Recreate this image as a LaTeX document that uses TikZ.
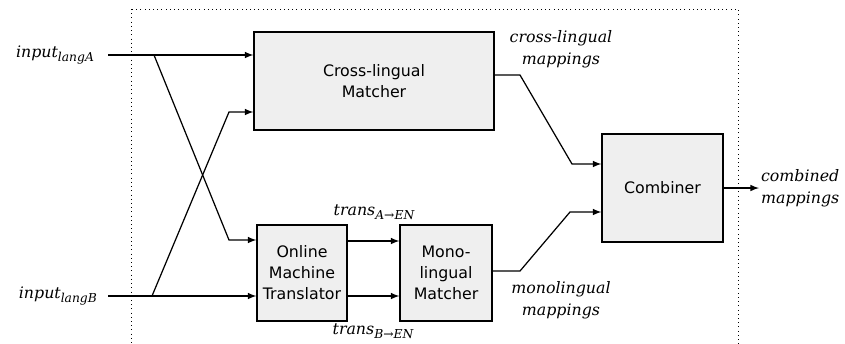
\documentclass[tikz,border=0pt]{standalone}
\usepackage{fontspec}
\setmainfont{DejaVu Sans}
\newfontfamily\lblfont{DejaVu Serif}
\usepackage{tikz}
\usetikzlibrary{arrows}
\tikzset{>=latex}
\usepackage{xcolor}
\definecolor{boxgray}{HTML}{EFEFEF}
\newcommand{\sub}[1]{\raisebox{-0.25em}{\fontsize{7}{7}\selectfont #1}}

\tikzset{
  block/.style={draw,fill=boxgray,line width=0.7pt,align=center,inner sep=0pt,
    font=\fontsize{9}{12}\selectfont},
  lbl/.style={align=center,inner sep=1pt,font=\fontsize{9}{12.5}\selectfont\lblfont\itshape},
  conn/.style={->,line width=0.7pt}
}

\begin{document}
\begin{tikzpicture}[x=0.02cm,y=-0.02cm]
  \useasboundingbox (0,0) rectangle (845,343);
  \draw[dotted] (131,9) rectangle (738,360);
  % blocks
  \node[block,minimum width=4.8cm,minimum height=1.96cm] (CLM) at (374,81) {Cross-lingual\\Matcher};
  \node[block,minimum width=1.8cm,minimum height=1.92cm] (OMT) at (302,273) {Online\\Machine\\Translator};
  \node[block,minimum width=1.84cm,minimum height=1.92cm] (MLM) at (446,273) {Mono-\\lingual\\Matcher};
  \node[block,minimum width=2.42cm,minimum height=2.16cm] (Comb) at (662.5,188) {Combiner};
  % inputs
  \node[lbl,anchor=east] (inA) at (96,55) {input\sub{langA}};
  \node[lbl,anchor=east] (inB) at (99,296) {input\sub{langB}};
  \coordinate (sA) at (154,55);
  \coordinate (sB) at (152,296);
  \coordinate (kA) at (229,240);
  \coordinate (kB) at (229,112);
  \draw[conn] (108,55) -- (inA.east -| CLM.west);
  \draw[conn] (sA) -- (kA) -- (kA -| OMT.west);
  \draw[conn] (108,296) -- (inB.east -| OMT.west);
  \draw[conn] (sB) -- (kB) -- (kB -| CLM.west);
  % translations
  \coordinate (tA) at (347,241);
  \coordinate (tB) at (347,296);
  \draw[conn] (tA) -- (tA -| MLM.west);
  \draw[conn] (tB) -- (tB -| MLM.west);
  \node[lbl] (trA) at (374,212) {trans\sub{A→EN}};
  \node[lbl] (trB) at (373,331) {trans\sub{B→EN}};
  % to combiner
  \coordinate (cA) at (494,75);
  \coordinate (cB) at (492,271);
  \coordinate (jA) at (572,164);
  \coordinate (jB) at (570,212);
  \draw[conn] (cA) -- ++(26,0) -- (jA) -- (jA -| Comb.west);
  \draw[conn] (cB) -- ++(28,0) -- (jB) -- (jB -| Comb.west);
  \node[lbl] (mapCL) at (561,49) {cross-lingual\\mappings};
  \node[lbl] (mapML) at (561,300) {monolingual\\mappings};
  % output
  \node[lbl,anchor=west,align=left] (out) at (759,188) {combined\\mappings};
  \draw[conn] (Comb.east) -- (Comb.east -| out.west);
\end{tikzpicture}
\end{document}
